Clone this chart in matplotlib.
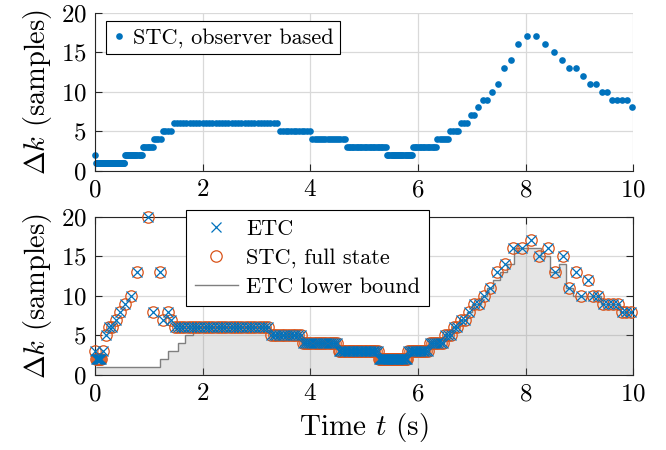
import numpy as np
import matplotlib
matplotlib.use("Agg")
import matplotlib.pyplot as plt

plt.rcParams['font.family'] = 'serif'
plt.rcParams['font.serif'] = ['cmr10']
plt.rcParams['mathtext.fontset'] = 'cm'
plt.rcParams['axes.formatter.use_mathtext'] = True
plt.rcParams['axes.unicode_minus'] = False

# sample period (s)
h = 0.01

# Top: STC, observer based -- run-length encoded inter-sample times (samples)
top_levels = [2, 1, 2, 3, 4, 5, 6, 5, 4, 3, 2, 3, 4, 5, 6, 7, 8, 9, 10, 11, 13, 14, 16, 17,
              16, 15, 14, 13, 12, 11, 10, 9, 8]
top_counts = [1, 53, 17, 7, 4, 4, 33, 12, 16, 25, 24, 15, 6, 4, 3, 2, 1, 2, 1, 1, 1, 1, 1, 2,
              1, 1, 1, 2, 1, 2, 2, 4, 1]

# Bottom: ETC and STC full state (same events)
bot_levels = [3, 2, 3, 5, 6, 7, 8, 9, 10, 13, 20, 8, 13, 7, 8, 7, 6, 5, 4, 3, 2, 3, 4, 5, 6,
              7, 8, 9, 10, 11, 13, 14, 16, 17, 15, 16, 13, 15, 11, 13, 10, 12, 10, 9, 8]
bot_counts = [1, 6, 1, 1, 2, 1, 1, 1, 1, 1, 1, 1, 1, 1, 1, 1, 30, 12, 17, 25, 27, 13, 7, 3, 2,
              2, 1, 2, 1, 1, 1, 1, 2, 1, 1, 1, 1, 1, 1, 1, 1, 1, 2, 4, 3]

# ETC lower bound (stairs)
lb_edges = [0.02, 1.21, 1.36, 1.55, 1.67, 1.83, 3.25, 3.85, 4.52, 5.28, 5.80, 6.20, 6.49,
            6.64, 6.77, 6.92, 7.00, 7.18, 7.29, 7.40, 7.52, 7.66, 7.79, 8.29, 8.46, 8.62,
            8.75, 8.88, 9.40, 9.76, 10.0]
lb_values = [1, 2, 3, 4, 5, 6, 5, 4, 3, 2, 3, 4, 5, 6, 7, 8, 9, 10, 11, 12, 13, 14, 16, 15,
             13, 14, 11, 10, 9, 8]

top_dk = np.repeat(top_levels, top_counts)
top_t = np.concatenate([[0.0], np.cumsum(top_dk[:-1]) * h])

bot_dk = np.repeat(bot_levels, bot_counts)
bot_t = np.concatenate([[0.0], np.cumsum(bot_dk[1:]) * h])

blue = '#0072BD'
orange = '#D95319'
grid_c = '#d9d9d9'
axis_c = '#262626'

TICK_FS = 18
LABEL_FS = 20.5
LEG_FS = 16

fig = plt.figure(figsize=(6.66, 4.5), dpi=100)
ax1 = fig.add_axes([0.1426, 0.6207, 0.8083, 0.3511])
ax2 = fig.add_axes([0.1426, 0.1667, 0.8083, 0.3518])

for ax in (ax1, ax2):
    ax.set_xlim(0, 10)
    ax.set_ylim(0, 20)
    ax.set_xticks([0, 2, 4, 6, 8, 10])
    ax.set_yticks([0, 5, 10, 15, 20])
    ax.set_axisbelow(True)
    ax.grid(True, color=grid_c, linewidth=0.9)
    ax.tick_params(direction='in', length=5, width=0.8, color=axis_c,
                   labelsize=TICK_FS, labelcolor='black', pad=6)
    ax.set_ylabel(r'$\Delta k$ (samples)', fontsize=LABEL_FS, labelpad=5)

# top axes: box off
ax1.spines['top'].set_visible(False)
ax1.spines['right'].set_visible(False)
for s in ('left', 'bottom'):
    ax1.spines[s].set_color(axis_c)
    ax1.spines[s].set_linewidth(0.8)
ax1.plot(top_t, top_dk, 'o', color=blue, markersize=4.8, markeredgewidth=0,
         label='STC, observer based', clip_on=False)
leg1 = ax1.legend(loc='upper left', bbox_to_anchor=(0.0204, 0.947), borderaxespad=0,
                  fontsize=LEG_FS, handlelength=0.6, handletextpad=0.3, fancybox=False,
                  framealpha=1, edgecolor='black', borderpad=0.3)
leg1.get_frame().set_linewidth(0.8)

# bottom axes: box on
for s in ax2.spines.values():
    s.set_color(axis_c)
    s.set_linewidth(0.8)
ax2.tick_params(top=True, right=True)
ax2.stairs(lb_values, lb_edges, baseline=0, fill=True, facecolor=(0.5, 0.5, 0.5),
           alpha=0.2, edgecolor='none', zorder=1)
ax2.stairs(lb_values, lb_edges, baseline=None, color='#7f7f7f', linewidth=1.0,
           label='ETC lower bound', zorder=2)
ax2.plot(bot_t, bot_dk, 'o', markerfacecolor='none', markeredgecolor=orange,
         markersize=8.2, markeredgewidth=0.9, label='STC, full state', zorder=3, clip_on=False)
ax2.plot(bot_t, bot_dk, 'x', color=blue, markersize=6.5, markeredgewidth=0.9,
         label='ETC', zorder=4, clip_on=False)
ax2.set_xlabel(r'Time $t$ (s)', fontsize=21, labelpad=4)

handles, labels = ax2.get_legend_handles_labels()
order = [labels.index('ETC'), labels.index('STC, full state'), labels.index('ETC lower bound')]
leg2 = ax2.legend([handles[i] for i in order], [labels[i] for i in order],
                  loc='upper left', bbox_to_anchor=(0.279, 0.533),
                  bbox_transform=fig.transFigure, borderaxespad=0, fontsize=LEG_FS,
                  handlelength=1.95, handletextpad=0.35, fancybox=False, framealpha=1,
                  edgecolor='black', borderpad=0.4, labelspacing=0.42)
leg2.get_frame().set_linewidth(0.8)
leg2.set_zorder(10)

fig.savefig('out.png', dpi=100)
